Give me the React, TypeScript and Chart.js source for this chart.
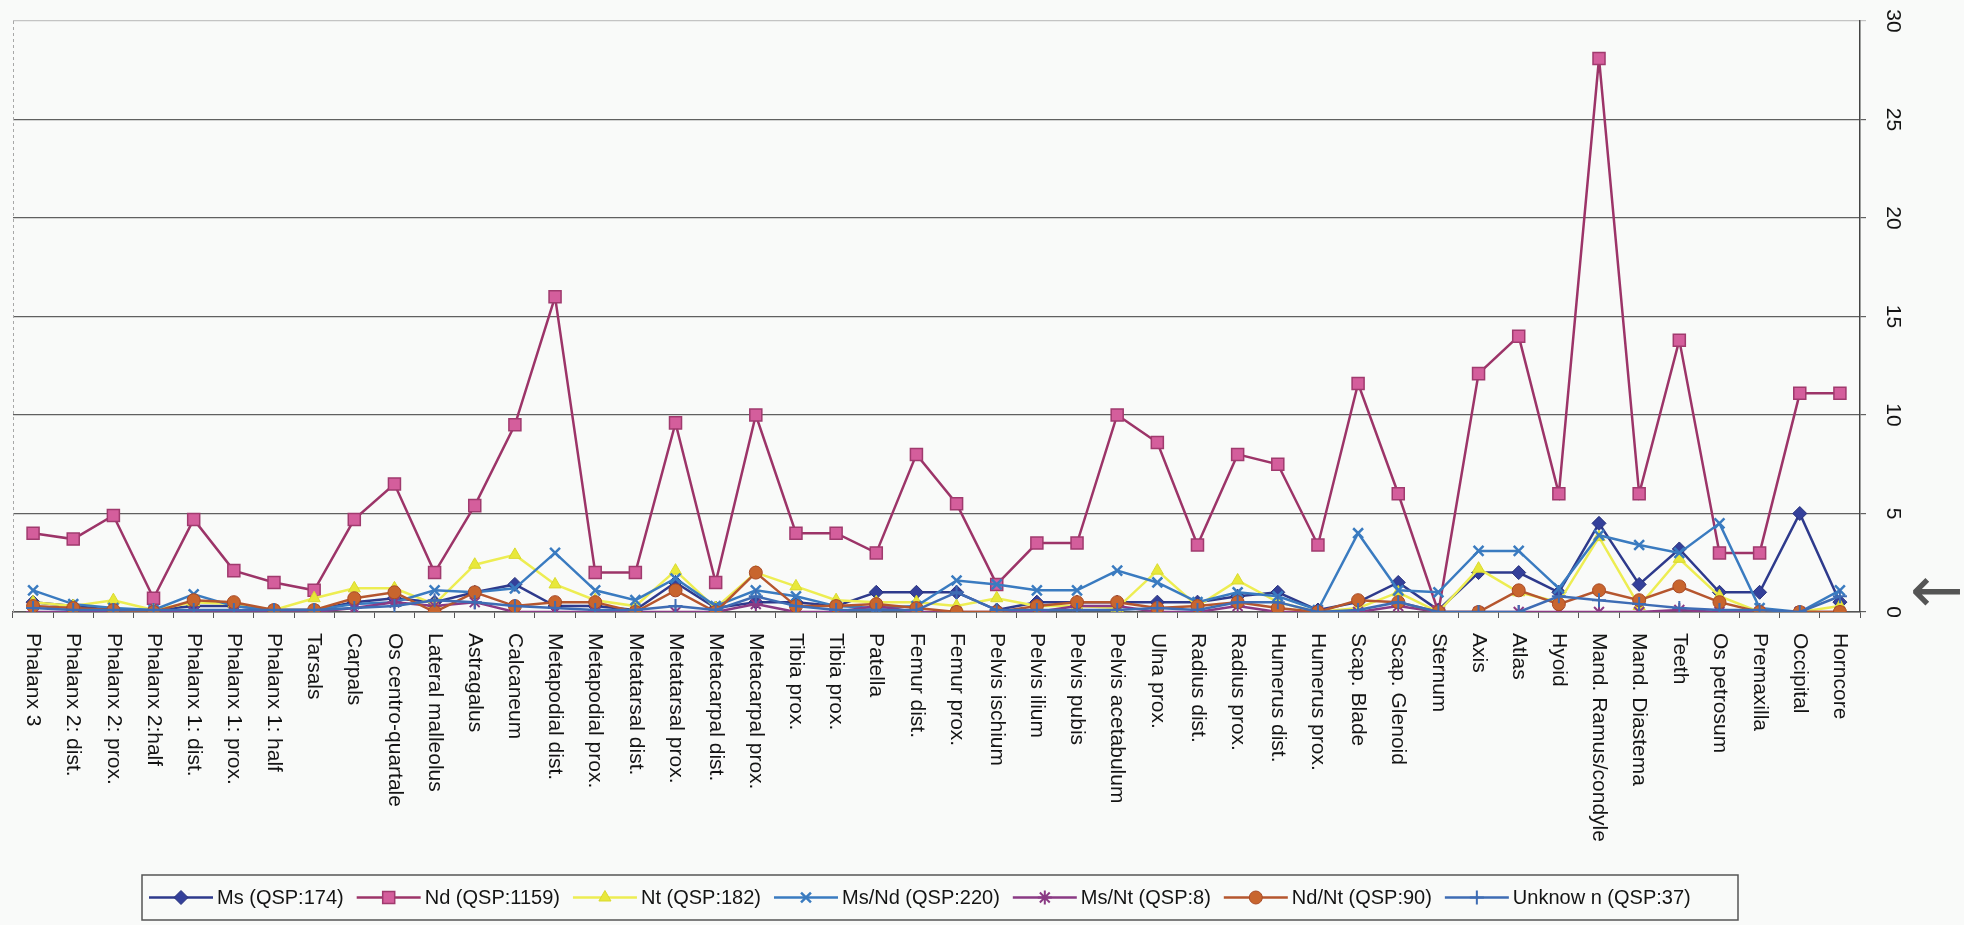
import React, { useEffect, useRef } from 'react';
import { Chart, registerables } from 'chart.js';
import { drawPoint } from 'chart.js/helpers';

Chart.register(...registerables);

const categories = [
  'Phalanx 3', 'Phalanx 2: dist.', 'Phalanx 2: prox.', 'Phalanx 2:half', 'Phalanx 1: dist.',
  'Phalanx 1: prox.', 'Phalanx 1: half', 'Tarsals', 'Carpals', 'Os centro-quartale',
  'Lateral malleolus', 'Astragalus', 'Calcaneum', 'Metapodial dist.', 'Metapodial prox.',
  'Metatarsal dist.', 'Metatarsal prox.', 'Metacarpal dist.', 'Metacarpal prox.', 'Tibia prox.',
  'Tibia prox.', 'Patella', 'Femur dist.', 'Femur prox.', 'Pelvis ischium',
  'Pelvis ilium', 'Pelvis pubis', 'Pelvis acetabulum', 'Ulna prox.', 'Radius dist.',
  'Radius prox.', 'Humerus dist.', 'Humerus prox.', 'Scap. Blade', 'Scap. Glenoid',
  'Sternum', 'Axis', 'Atlas', 'Hyoid', 'Mand. Ramus/condyle',
  'Mand. Diastema', 'Teeth', 'Os petrosum', 'Premaxilla', 'Occipital', 'Horncore',
];

const yTickValues = [0, 5, 10, 15, 20, 25, 30];

const msValues = [0.5, 0.3, 0.1, 0.1, 0.3, 0.3, 0.1, 0.1, 0.5, 0.7, 0.5, 1.0, 1.4, 0.3, 0.3, 0.1, 1.5, 0.2, 0.5, 0.5, 0.3, 1.0, 1.0, 1.0, 0.1, 0.5, 0.5, 0.5, 0.5, 0.5, 0.8, 1.0, 0.1, 0.5, 1.5, 0.1, 2.0, 2.0, 1.0, 4.5, 1.4, 3.2, 1.0, 1.0, 5.0, 0.5];
const ndValues = [4.0, 3.7, 4.9, 0.7, 4.7, 2.1, 1.5, 1.1, 4.7, 6.5, 2.0, 5.4, 9.5, 16.0, 2.0, 2.0, 9.6, 1.5, 10.0, 4.0, 4.0, 3.0, 8.0, 5.5, 1.4, 3.5, 3.5, 10.0, 8.6, 3.4, 8.0, 7.5, 3.4, 11.6, 6.0, 0, 12.1, 14.0, 6.0, 28.1, 6.0, 13.8, 3.0, 3.0, 11.1, 11.1];
const ntValues = [0.5, 0.3, 0.6, 0.1, 0.5, 0.4, 0.1, 0.7, 1.2, 1.2, 0.4, 2.4, 2.9, 1.4, 0.6, 0.3, 2.1, 0.2, 2.0, 1.3, 0.6, 0.5, 0.5, 0.3, 0.7, 0.3, 0.3, 0.2, 2.1, 0.3, 1.6, 0.5, 0, 0.2, 1.0, 0, 2.2, 1.0, 0.5, 3.8, 0.3, 2.7, 0.8, 0, 0, 0.3];
const msNdValues = [1.1, 0.4, 0.2, 0.1, 0.9, 0.3, 0.1, 0.1, 0.4, 0.5, 1.1, 1.0, 1.2, 3.0, 1.1, 0.6, 1.7, 0.3, 1.1, 0.8, 0.3, 0.2, 0.3, 1.6, 1.4, 1.1, 1.1, 2.1, 1.5, 0.5, 1.0, 0.8, 0.1, 4.0, 1.1, 1.0, 3.1, 3.1, 1.2, 3.9, 3.4, 3.0, 4.5, 0.2, 0, 1.1];
const msNtValues = [0, 0, 0, 0, 0, 0, 0, 0, 0.2, 0.5, 0.3, 0.5, 0, 0, 0, 0, 0, 0, 0.4, 0, 0, 0.3, 0, 0, 0, 0, 0.3, 0.3, 0, 0, 0.3, 0, 0, 0, 0.3, 0, 0, 0, 0, 0, 0, 0.1, 0, 0, 0, 0];
const ndNtValues = [0.3, 0.2, 0.1, 0, 0.6, 0.5, 0.1, 0.1, 0.7, 1.0, 0, 1.0, 0.3, 0.5, 0.5, 0, 1.1, 0, 2.0, 0.3, 0.3, 0.4, 0.2, 0, 0, 0.3, 0.5, 0.5, 0.2, 0.3, 0.5, 0.2, 0, 0.6, 0.5, 0, 0, 1.1, 0.4, 1.1, 0.6, 1.3, 0.5, 0, 0, 0];
const unknownValues = [0.2, 0.1, 0.1, 0.1, 0.1, 0.1, 0.1, 0.1, 0.2, 0.3, 0.6, 0.5, 0.3, 0.2, 0.1, 0.1, 0.3, 0.1, 0.8, 0.3, 0.1, 0.1, 0.1, 1.0, 0.1, 0.1, 0.1, 0.1, 0.2, 0.1, 0.5, 0.5, 0, 0.1, 0.5, 0, 0, 0, 0.8, 0.6, 0.4, 0.2, 0.1, 0.1, 0, 0.8];

const seriesNames = [
  'Ms (QSP:174)', 'Nd (QSP:1159)', 'Nt (QSP:182)', 'Ms/Nd (QSP:220)',
  'Ms/Nt (QSP:8)', 'Nd/Nt (QSP:90)', 'Unknow n (QSP:37)',
];

const FONT = "'Liberation Sans', Arial, sans-serif";
const BG = '#f9faf9';

type Style = { line: string; fill: string; border: string; point: string; radius: number; pbw: number };
const styles: Style[] = [
  { line: '#2e3a8c', fill: '#34409a', border: '#26307a', point: 'rectRot', radius: 7, pbw: 1 },
  { line: '#9c3468', fill: '#d45e9c', border: '#a03a6e', point: 'rect', radius: 8.5, pbw: 1.5 },
  { line: '#eded52', fill: '#e8e83a', border: '#d9d92e', point: 'triangle', radius: 7, pbw: 1 },
  { line: '#3a7bc0', fill: '#3a7bc0', border: '#3a7bc0', point: 'crossRot', radius: 7, pbw: 2.5 },
  { line: '#8a3a84', fill: '#8a3a84', border: '#8a3a84', point: 'star', radius: 7, pbw: 2 },
  { line: '#b5562e', fill: '#c8652e', border: '#a84a26', point: 'circle', radius: 6.5, pbw: 1 },
  { line: '#3e6cb4', fill: '#3e6cb4', border: '#3e6cb4', point: 'cross', radius: 7, pbw: 2 },
];
const seriesValues = [msValues, ndValues, ntValues, msNdValues, msNtValues, ndNtValues, unknownValues];

const decorPlugin = {
  id: 'decor',
  afterDraw(chart: any) {
    const { ctx, chartArea } = chart;
    const xs = chart.scales.x;
    const ys = chart.scales.y;
    ctx.save();
    // left dashed border and dashed top edge
    ctx.strokeStyle = '#a8a8a8';
    ctx.lineWidth = 1;
    ctx.setLineDash([3, 3]);
    ctx.beginPath();
    ctx.moveTo(chartArea.left + 0.5, chartArea.top);
    ctx.lineTo(chartArea.left + 0.5, chartArea.bottom);
    ctx.stroke();
    ctx.setLineDash([]);

    // category labels, rotated clockwise
    ctx.fillStyle = '#141414';
    ctx.font = `21px ${FONT}`;
    ctx.textAlign = 'left';
    ctx.textBaseline = 'middle';
    categories.forEach((label, i) => {
      const x = xs.getPixelForValue(i);
      ctx.save();
      ctx.translate(x, chartArea.bottom + 21);
      ctx.rotate(Math.PI / 2);
      ctx.fillText(label, 0, 0);
      ctx.restore();
    });

    // value labels on the right, rotated clockwise
    ctx.font = `21px ${FONT}`;
    ctx.textAlign = 'center';
    ys.ticks.forEach((t: any) => {
      const y = ys.getPixelForValue(t.value);
      ctx.save();
      ctx.translate(chartArea.right + 33, y);
      ctx.rotate(Math.PI / 2);
      ctx.fillText(String(t.value), 0, 0);
      ctx.restore();
    });

    // arrow pointing at zero
    ctx.fillStyle = '#555';
    ctx.font = `64px 'DejaVu Sans', sans-serif`;
    ctx.textAlign = 'left';
    ctx.fillText('\u2190', chartArea.right + 50, ys.getPixelForValue(0) - 17);

    // legend
    const boxL = 142, boxR = 1738, boxT = 875, boxB = 920;
    ctx.strokeStyle = '#555';
    ctx.lineWidth = 1.5;
    ctx.strokeRect(boxL, boxT, boxR - boxL, boxB - boxT);
    ctx.font = `20px ${FONT}`;
    ctx.textBaseline = 'middle';
    ctx.textAlign = 'left';
    const cy = (boxT + boxB) / 2;
    const sampleW = 64;
    let x = boxL + 7;
    seriesNames.forEach((name, i) => {
      const s = styles[i];
      ctx.strokeStyle = s.line;
      ctx.lineWidth = 2.5;
      ctx.beginPath();
      ctx.moveTo(x, cy);
      ctx.lineTo(x + sampleW, cy);
      ctx.stroke();
      ctx.fillStyle = s.fill;
      ctx.strokeStyle = s.border;
      ctx.lineWidth = s.pbw;
      drawPoint(ctx, { pointStyle: s.point, radius: s.radius, rotation: 0, borderWidth: s.pbw } as any, x + sampleW / 2, cy);
      ctx.fillStyle = '#141414';
      ctx.fillText(name, x + sampleW + 4, cy + 1);
      x += sampleW + 4 + ctx.measureText(name).width + 13;
    });
    ctx.restore();
  },
};

export default function App() {
  const ref = useRef<HTMLCanvasElement>(null);
  useEffect(() => {
    const canvas = ref.current!;
    const datasets = seriesNames.map((name, i) => {
      const s = styles[i];
      return {
        label: name,
        data: seriesValues[i],
        borderColor: s.line,
        backgroundColor: s.fill,
        borderWidth: 2.5,
        pointStyle: s.point,
        pointRadius: s.radius,
        pointBackgroundColor: s.fill,
        pointBorderColor: s.border,
        pointBorderWidth: s.pbw,
        tension: 0,
        fill: false,
        order: seriesNames.length - 1 - i,
      };
    });
    const chart = new Chart(canvas, {
      type: 'line',
      data: { labels: categories, datasets: datasets as any },
      options: {
        responsive: false,
        animation: false,
        devicePixelRatio: 1,
        layout: { padding: { left: 13, top: 21, right: 98, bottom: 307 } },
        plugins: { legend: { display: false }, tooltip: { enabled: false } },
        scales: {
          x: {
            type: 'category',
            offset: true,
            grid: { display: true, drawOnChartArea: false, drawTicks: true, tickLength: 6, color: '#555', offset: true, lineWidth: 1 },
            border: { display: true, color: '#555', width: 1.5 },
            ticks: { display: false },
          },
          y: {
            position: 'right',
            min: 0,
            max: 30,
            afterBuildTicks: (scale: any) => {
              scale.ticks = yTickValues.map((v) => ({ value: v }));
            },
            grid: {
              color: (c: any) => (c.tick && c.tick.value === 30 ? '#c4c4c4' : '#606060'),
              lineWidth: 1.2,
              tickLength: 6,
              drawTicks: true,
            },
            border: { display: true, color: '#444', width: 1.5 },
            ticks: { display: false },
          },
        },
      },
      plugins: [decorPlugin],
    });
    return () => chart.destroy();
  }, []);
  return (
    <div style={{ position: 'absolute', left: 0, top: 0, width: 1964, height: 925, background: BG }}>
      <canvas ref={ref} width={1964} height={925} style={{ display: 'block', width: 1964, height: 925 }} />
    </div>
  );
}
